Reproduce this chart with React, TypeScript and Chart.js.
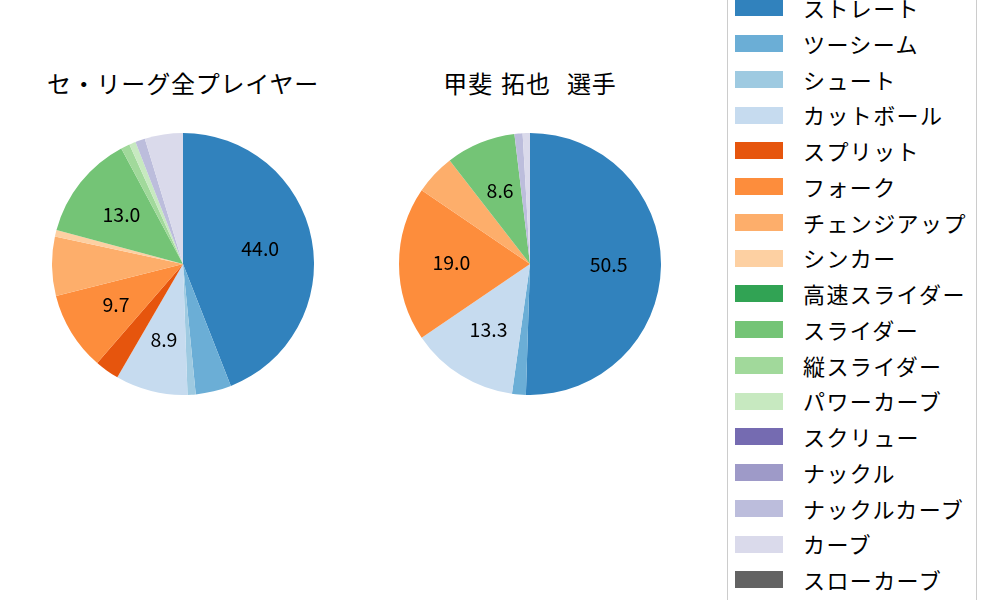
import React, { useEffect, useRef } from "react";
import { Chart, registerables } from "chart.js";

Chart.register(...registerables);

const pitchTypes = [
  "ストレート", "ツーシーム", "シュート", "カットボール", "スプリット", "フォーク",
  "チェンジアップ", "シンカー", "高速スライダー", "スライダー", "縦スライダー",
  "パワーカーブ", "スクリュー", "ナックル", "ナックルカーブ", "カーブ", "スローカーブ",
];
const pitchColors = [
  "#3182bd", "#6baed6", "#9ecae1", "#c6dbef", "#e6550d", "#fd8d3c",
  "#fdae6b", "#fdd0a2", "#31a354", "#74c476", "#a1d99b",
  "#c7e9c0", "#756bb1", "#9e9ac8", "#bcbddc", "#dadaeb", "#636363",
];
const leagueValues = [44.0, 4.4, 1.0, 8.9, 3.0, 9.7, 7.3, 0.8, 0, 13.0, 1.1, 0.8, 0, 0, 1.2, 4.7, 0];
const playerValues = [50.5, 1.7, 0, 13.3, 0, 19.0, 5.0, 0, 0, 8.6, 0, 0, 0, 0, 1.0, 0.9, 0];
const leagueTitle = "セ・リーグ全プレイヤー";
const playerTitle = "甲斐 拓也  選手";
const labelThreshold = 8;

const FONT = "'Noto Sans CJK JP', 'Noto Sans', sans-serif";

const pctLabelPlugin = {
  id: "pctLabels",
  afterDatasetsDraw(chart: any) {
    const ctx = chart.ctx;
    const meta = chart.getDatasetMeta(0);
    const data = chart.data.datasets[0].data as number[];
    ctx.save();
    ctx.font = `19.5px ${FONT}`;
    ctx.fillStyle = "#000000";
    ctx.textAlign = "center";
    ctx.textBaseline = "middle";
    meta.data.forEach((arc: any, i: number) => {
      const v = data[i];
      if (v < labelThreshold) return;
      const p = arc.getProps(["x", "y", "startAngle", "endAngle", "outerRadius"], true);
      const mid = (p.startAngle + p.endAngle) / 2;
      const r = p.outerRadius * 0.6;
      ctx.fillText(v.toFixed(1), p.x + Math.cos(mid) * r, p.y + Math.sin(mid) * r - 1);
    });
    ctx.restore();
  },
};

function Pie({ values, cx, cy, r }: { values: number[]; cx: number; cy: number; r: number }) {
  const ref = useRef<HTMLCanvasElement | null>(null);
  useEffect(() => {
    if (!ref.current) return;
    const chart = new Chart(ref.current, {
      type: "pie",
      data: {
        labels: pitchTypes,
        datasets: [
          {
            data: values,
            backgroundColor: pitchColors,
            borderWidth: 0,
          },
        ],
      },
      options: {
        animation: false,
        responsive: false,
        maintainAspectRatio: false,
        layout: { padding: 0 },
        plugins: {
          legend: { display: false },
          tooltip: { enabled: false },
          title: { display: false },
        },
        events: [],
      },
      plugins: [pctLabelPlugin],
    });
    return () => chart.destroy();
  }, [values]);
  return (
    <canvas
      ref={ref}
      width={2 * r}
      height={2 * r}
      style={{ position: "absolute", left: cx - r, top: cy - r, width: 2 * r, height: 2 * r }}
    />
  );
}

function Title({ text, cx }: { text: string; cx: number }) {
  return (
    <div
      style={{
        position: "absolute",
        left: cx - 200,
        width: 400,
        top: 62.5,
        height: 40,
        lineHeight: "40px",
        textAlign: "center",
        fontFamily: FONT,
        fontSize: 24,
        letterSpacing: "0.8px",
        wordSpacing: "2px",
        color: "#000",
        whiteSpace: "pre",
      }}
    >
      {text}
    </div>
  );
}

function Legend() {
  return (
    <div
      style={{
        position: "absolute",
        left: 727,
        top: -16,
        width: 250,
        height: 640,
        border: "1px solid #cccccc",
        borderRadius: 4,
        boxSizing: "border-box",
        paddingTop: 5,
        background: "#fff",
      }}
    >
      {pitchTypes.map((name, i) => (
        <div
          key={name}
          style={{ position: "relative", height: 35.75, display: "flex", alignItems: "center" }}
        >
          <div
            style={{
              position: "absolute",
              left: 7,
              width: 48,
              height: 17,
              background: pitchColors[i],
            }}
          />
          <div
            style={{
              position: "absolute",
              left: 75,
              fontFamily: FONT,
              fontSize: 22,
              letterSpacing: "1.4px",
              lineHeight: "35.75px",
              whiteSpace: "pre",
              color: "#000",
            }}
          >
            {name}
          </div>
        </div>
      ))}
    </div>
  );
}

export default function App() {
  return (
    <div
      style={{
        position: "fixed",
        left: 0,
        top: 0,
        width: 1000,
        height: 600,
        background: "#ffffff",
        overflow: "hidden",
      }}
    >
      <Title text={leagueTitle} cx={183} />
      <Title text={playerTitle} cx={530} />
      <Pie values={leagueValues} cx={183} cy={264} r={131} />
      <Pie values={playerValues} cx={530} cy={264} r={131} />
      <Legend />
    </div>
  );
}
